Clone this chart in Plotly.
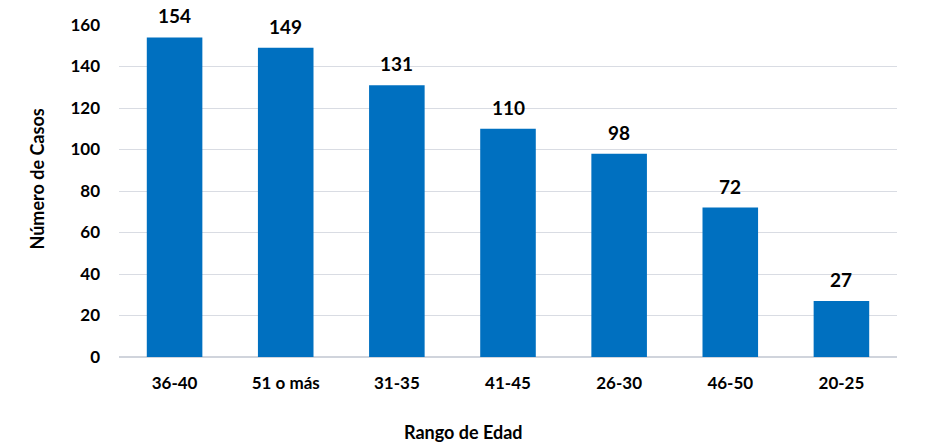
import plotly.graph_objects as go

categories = ["36-40", "51 o más", "31-35", "41-45", "26-30", "46-50", "20-25"]
values = [154, 149, 131, 110, 98, 72, 27]
y_ticks = [0, 20, 40, 60, 80, 100, 120, 140, 160]
x_title = "Rango de Edad"
y_title = "Número de Casos"

FONT = "Lato, 'Open Sans', sans-serif"

fig = go.Figure()
fig.add_trace(go.Bar(
    x=categories, y=values,
    marker=dict(color="#0070C0", line=dict(width=0)),
    width=0.5,
    showlegend=False,
))

for c, v in zip(categories, values):
    fig.add_annotation(
        x=c, y=v, text=f"<b>{v}</b>", showarrow=False,
        yanchor="bottom", yshift=8,
        font=dict(family=FONT, size=19, color="#000000"),
    )

# axis titles (placed as in the reference, slightly off-centre)
fig.add_annotation(
    xref="paper", yref="paper", x=0.443, y=-0.226,
    xanchor="center", yanchor="middle", showarrow=False,
    text=f"<b>{x_title}</b>", font=dict(family=FONT, size=18, color="#000000"),
)
fig.add_annotation(
    xref="paper", yref="paper", x=-0.1054, y=0.5377,
    xanchor="center", yanchor="middle", showarrow=False, textangle=-90,
    text=f"<b>{y_title}</b>", font=dict(family=FONT, size=18, color="#000000"),
)

fig.update_layout(
    width=931, height=448,
    margin=dict(l=119, r=34, t=25, b=91),
    paper_bgcolor="white", plot_bgcolor="white",
    font=dict(family=FONT, color="#000000"),
    xaxis=dict(
        tickfont=dict(size=17, family=FONT, weight="bold"),
        showgrid=False, showline=False, ticks="",
        ticklabelstandoff=14,
    ),
    yaxis=dict(
        range=[0, 160], tickvals=y_ticks,
        tickfont=dict(size=17, family=FONT, weight="bold"),
        showgrid=True, gridcolor="#D9DCE3", gridwidth=1,
        zeroline=True, zerolinecolor="#D0D4DC", zerolinewidth=2,
        showline=False, ticks="", ticklabelstandoff=18,
    ),
)

fig.write_html("out.html")
